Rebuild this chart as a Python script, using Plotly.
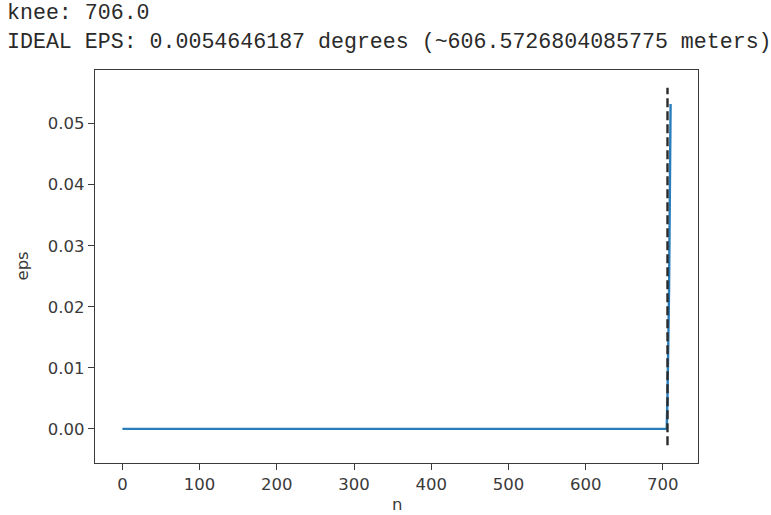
import plotly.graph_objects as go

# Sorted k-distance curve (index -> eps in degrees); the long flat run is ~0
n_idx = [0, 705, 706, 707, 708, 709, 710]
eps_vals = [0.0, 0.0, 0.0054646187, 0.0125, 0.0227, 0.0380, 0.0532]

knee = 706.0
ideal_eps = 0.0054646187
ideal_m = 606.5726804085775

header_lines = [
    f"knee: {knee}",
    f"IDEAL EPS: {ideal_eps} degrees (~{ideal_m} meters)",
]
x_ticks = [0, 100, 200, 300, 400, 500, 600, 700]
y_ticks = [0.00, 0.01, 0.02, 0.03, 0.04, 0.05]


def padded(lo, hi, frac=0.05):
    span = hi - lo
    return lo - frac * span, hi + frac * span


# knee marker spans the autoscaled limits of the curve, then the axes grow again
v_lo, v_hi = padded(min(eps_vals), max(eps_vals))
y_range = padded(v_lo, v_hi)
x_range = padded(min(n_idx), max(n_idx))

W, H = 771, 515
L, R, T, B = 95, 73, 70, 52
pw, ph = W - L - R, H - T - B

fig = go.Figure()
fig.add_trace(go.Scatter(
    x=n_idx, y=eps_vals, mode="lines",
    line=dict(color="#2a7dbb", width=2.4),
    hoverinfo="skip", showlegend=False,
))
fig.add_trace(go.Scatter(
    x=[knee, knee], y=[v_lo, v_hi], mode="lines",
    line=dict(color="#2b2b2b", width=2.4, dash="9px,4px"),
    hoverinfo="skip", showlegend=False,
))

axis_common = dict(
    showgrid=False, zeroline=False,
    showline=True, linecolor="#3a3a3a", linewidth=1.4, mirror=True,
    ticks="outside", ticklen=6, tickwidth=1.3, tickcolor="#3a3a3a",
    tickfont=dict(family="DejaVu Sans", size=16.5, color="#3a3a3a"),
)

fig.update_layout(
    width=W, height=H,
    margin=dict(l=L, r=R, t=T, b=B, pad=0),
    paper_bgcolor="white", plot_bgcolor="white",
    xaxis=dict(range=list(x_range), tickvals=x_ticks,
               ticktext=[str(v) for v in x_ticks], **axis_common),
    yaxis=dict(range=list(y_range), tickvals=y_ticks,
               ticktext=[f"{v:.2f}" for v in y_ticks], **axis_common),
)


def px_x(x):
    return (x - L) / pw


def px_y(y):
    return (H - B - y) / ph


annotations = []
for i, line in enumerate(header_lines):
    annotations.append(dict(
        text=line, xref="paper", yref="paper",
        x=px_x(5), y=px_y(13 + 29 * i), xanchor="left", yanchor="middle",
        showarrow=False,
        font=dict(family="Liberation Mono", size=21.6, color="#2a2a2a"),
    ))
annotations.append(dict(
    text="eps", xref="paper", yref="paper", x=px_x(22), y=0.5,
    xanchor="center", yanchor="middle", textangle=-90, showarrow=False,
    font=dict(family="DejaVu Sans", size=16.5, color="#3a3a3a"),
))
annotations.append(dict(
    text="n", xref="paper", yref="paper", x=0.5, y=px_y(504),
    xanchor="center", yanchor="middle", showarrow=False,
    font=dict(family="DejaVu Sans", size=16.5, color="#3a3a3a"),
))
fig.update_layout(annotations=annotations)

fig.write_html("out.html")
